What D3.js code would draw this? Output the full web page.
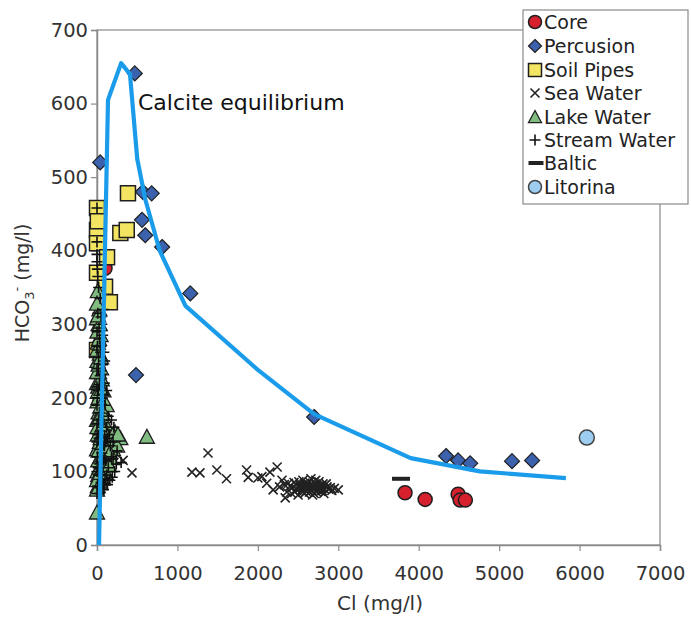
<!DOCTYPE html>
<html><head><meta charset="utf-8">
<script src="https://cdn.jsdelivr.net/npm/d3@7"></script>
<style>body{margin:0;background:#fff}svg{display:block}text{font-family:"DejaVu Sans",Verdana,sans-serif}</style>
</head><body><svg id="c" width="691" height="618"></svg>
<script>
// ---- data (Cl mg/l, HCO3 mg/l) ----
const xTicks = [0,1000,2000,3000,4000,5000,6000,7000];
const yTicks = [0,100,200,300,400,500,600,700];
const seriesNames = ["Core","Percusion","Soil Pipes","Sea Water","Lake Water","Stream Water","Baltic","Litorina"];
const core = [[100,376],[3830,71],[4080,62],[4490,69],[4515,61],[4580,61]];
const percusion = [[40,520],[470,641],[570,480],[680,478],[560,442],[600,421],[810,405],[1160,342],[485,231],[2700,174],[4340,121],[4490,115],[4640,111],[5160,114],[5410,115]];
const soilPipes = [[0,458],[0,428],[0,410],[125,391],[385,478],[290,424],[370,428],[100,351],[160,330],[0,265],[10,440],[0,370]];
const seaWater = [[325,115],[435,98],[1180,99],[1280,98],[1380,125],[1490,102],[1610,90],[1860,102],[1880,92],[2000,91],[2050,93],[2150,99],[2240,106],[2110,84],[2190,75],[2340,64],[2270,79],[2300,88],[2360,72],[2400,80],[2420,70],[2450,85],[2480,76],[2500,68],[2520,82],[2540,74],[2560,88],[2580,70],[2600,79],[2620,84],[2640,72],[2660,90],[2680,77],[2700,70],[2720,82],[2740,75],[2760,86],[2780,73],[2800,79],[2820,70],[2850,83],[2880,76],[2920,74],[3000,75],[2550,78],[2650,80],[2700,86],[2600,73],[2480,82],[2750,80],[2580,84],[2680,68],[2430,78],[2460,72],[2510,86],[2530,79],[2570,76],[2610,82],[2630,77],[2670,74],[2690,81],[2710,78],[2730,72],[2770,80],[2790,77],[2810,83],[2830,76],[2860,79],[2900,78],[2950,77],[2560,72],[2640,86],[2720,88],[2800,74],[2380,84],[2330,82]];
const lakeWater = [[0,44],[10,80],[20,92],[5,100],[30,105],[15,115],[45,120],[60,128],[25,135],[80,140],[110,145],[150,150],[225,153],[290,145],[200,130],[170,118],[130,110],[90,100],[60,92],[40,85],[10,150],[30,160],[50,170],[20,180],[70,185],[5,195],[40,205],[15,215],[60,225],[25,235],[5,250],[35,260],[10,275],[45,285],[20,300],[0,308],[30,320],[10,345],[620,147],[0,170],[100,165],[120,190],[80,210],[50,240],[0,220],[140,135],[180,140],[250,135],[100,125],[70,112],[0,130],[20,200],[55,150],[85,175],[35,140],[15,95],[65,102],[0,88],[110,98],[150,108],[0,75],[40,98],[75,122],[20,128],[45,145],[5,160],[65,162],[25,172],[40,188],[10,208],[55,212],[30,222],[0,235],[20,245],[50,255],[0,265],[25,280],[5,290],[35,300],[15,312],[0,328],[90,155],[120,130],[160,125],[200,150],[260,150]];
const streamWater = [[0,458],[0,412],[0,385],[5,375],[10,365],[30,280],[50,270],[20,255],[70,245],[40,230],[90,220],[15,210],[60,200],[100,190],[30,180],[80,170],[120,160],[45,155],[150,150],[25,145],[200,140],[90,135],[250,128],[60,125],[180,120],[110,115],[35,110],[300,112],[140,105],[70,100],[220,100],[20,95],[100,90],[50,85],[160,88],[10,80],[80,75],[130,82],[30,70],[0,100],[5,120],[0,140],[0,165],[0,190],[0,215],[0,240],[0,265],[0,290],[120,210],[140,175],[95,250],[60,300],[180,170],[210,160],[75,320],[110,140],[0,395],[20,350],[40,335],[10,315],[50,310],[25,295],[70,285],[5,270],[45,262],[85,262],[15,240],[55,232],[30,218],[75,205],[5,200],[45,190],[20,170],[65,160],[10,150],[95,148],[35,130],[70,138],[130,145],[15,105],[55,112],[90,118],[165,135],[200,118],[240,110],[120,95],[40,78],[65,88],[0,70],[85,82],[190,92]];
const baltic = [[3780,90]];
const litorina = [[6090,146]];
const calciteLine = [[25,0],[137,605],[300,655],[410,640],[500,525],[600,470],[780,400],[1100,325],[2000,238],[2700,178],[3900,118],[4760,100],[5830,91]];

// ---- layout ----
const svg = d3.select("#c");
const L=97,R=660,T=30,B=545;
const x = d3.scaleLinear().domain([0,7000]).range([L,R]);
const y = d3.scaleLinear().domain([0,700]).range([B,T]);
const axisCol="#8a8a8a", outline="#1e1e1e";

// frame
svg.append("rect").attr("x",L).attr("y",T).attr("width",R-L).attr("height",B-T)
  .attr("fill","none").attr("stroke",axisCol).attr("stroke-width",1.2);

// axes
const xa = svg.append("g").attr("transform",`translate(0,${B})`)
  .call(d3.axisBottom(x).tickValues(xTicks).tickSize(6).tickPadding(15).tickFormat(d3.format("d")));
const ya = svg.append("g").attr("transform",`translate(${L},0)`)
  .call(d3.axisLeft(y).tickValues(yTicks).tickSize(6).tickPadding(3).tickFormat(d3.format("d")));
[xa,ya].forEach(g=>{
  g.select(".domain").attr("stroke",axisCol).attr("stroke-width",1.5);
  g.selectAll(".tick line").attr("stroke",axisCol).attr("stroke-width",1.2);
  g.selectAll(".tick text").attr("fill","#333").style("font-size","19.5px").style("font-family","DejaVu Sans");
});

// symbols
const sym = {
  circle: r=>`M${-r},0A${r},${r} 0 1,0 ${r},0A${r},${r} 0 1,0 ${-r},0Z`,
  diamond: r=>`M0,${-r}L${r},0L0,${r}L${-r},0Z`,
  square: r=>`M${-r},${-r}H${r}V${r}H${-r}Z`,
  xmark: r=>`M${-r},${-r}L${r},${r}M${-r},${r}L${r},${-r}`,
  tri: r=>`M0,${-r}L${r},${r*0.85}L${-r},${r*0.85}Z`,
  plus: r=>`M${-r},0H${r}M0,${-r}V${r}`,
  dash: r=>`M${-r},0H${r}`
};
const styles = [
  {data:core, path:sym.circle, r:7, fill:"#d7202e", stroke:outline, sw:1.5},
  {data:percusion, path:sym.diamond, r:7.5, fill:"#3c62ae", stroke:outline, sw:1.2},
  {data:soilPipes, path:sym.square, r:7.5, fill:"#f3e462", stroke:outline, sw:1.5},
  {data:seaWater, path:sym.xmark, r:4.5, fill:"none", stroke:"#222", sw:1.6},
  {data:lakeWater, path:sym.tri, r:7.5, fill:"#80bb80", stroke:outline, sw:1.3},
  {data:streamWater, path:sym.plus, r:5.5, fill:"none", stroke:"#111", sw:1.6},
  {data:baltic, path:sym.dash, r:9, fill:"none", stroke:"#222", sw:4},
  {data:litorina, path:sym.circle, r:7.5, fill:"#9dcdf0", stroke:"#444", sw:1.5}
];
styles.forEach(s=>{
  svg.append("g").selectAll("path").data(s.data).join("path")
    .attr("d",s.path(s.r))
    .attr("transform",d=>`translate(${x(d[0])},${y(d[1])})`)
    .attr("fill",s.fill).attr("stroke",s.stroke).attr("stroke-width",s.sw);
});

// calcite equilibrium line
svg.append("path").datum(calciteLine)
  .attr("d",d3.line().x(d=>x(d[0])).y(d=>y(d[1])))
  .attr("fill","none").attr("stroke","#1a9cea").attr("stroke-width",4.2).attr("stroke-linejoin","round");
svg.append("text").attr("x",138).attr("y",110).attr("fill","#111").style("font-size","22px").text("Calcite equilibrium");

// axis titles
svg.append("text").attr("x",380).attr("y",610).attr("text-anchor","middle").attr("fill","#333")
  .style("font-size","20px").text("Cl (mg/l)");
const yt = svg.append("text").attr("transform","translate(29,283) rotate(-90)").attr("text-anchor","middle")
  .attr("fill","#333").style("font-size","19px");
yt.append("tspan").text("HCO");
yt.append("tspan").attr("dy",5).style("font-size","13px").text("3");
yt.append("tspan").attr("dy",-13).style("font-size","13px").text("-");
yt.append("tspan").attr("dy",8).text(" (mg/l)");

// legend
const lg = svg.append("g");
lg.append("rect").attr("x",523).attr("y",10).attr("width",165).attr("height",194)
  .attr("fill","#fff").attr("stroke",axisCol).attr("stroke-width",1.2);
const ly = [22,46,70,93,117,140,163,187];
seriesNames.forEach((n,i)=>{
  const s = styles[i];
  const r = i===6 ? 7.5 : Math.min(s.r,6.5);
  lg.append("path").attr("d",s.path(r)).attr("transform",`translate(${i===6?536:535},${ly[i]})`)
    .attr("fill",s.fill).attr("stroke",s.stroke).attr("stroke-width",s.sw);
  lg.append("text").attr("x",544).attr("y",ly[i]).attr("dy","0.36em").attr("fill","#222")
    .style("font-size","19px").text(n);
});
</script></body></html>
